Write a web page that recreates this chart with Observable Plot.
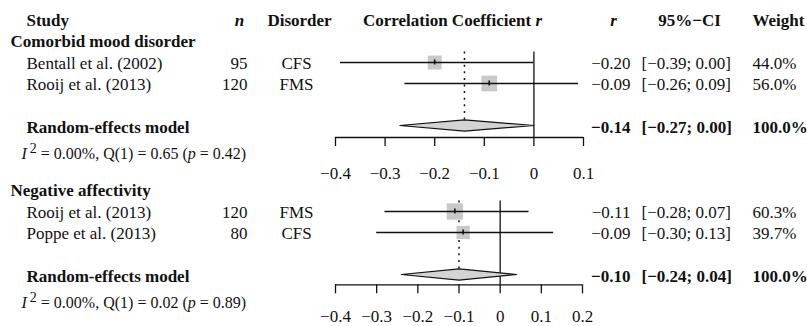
<!DOCTYPE html>
<html><head><meta charset="utf-8">
<script src="https://cdn.jsdelivr.net/npm/d3@7"></script>
<script src="https://cdn.jsdelivr.net/npm/@observablehq/plot@0.6"></script>
<style>
body{margin:0;background:#fff;}
#chart svg{display:block;}
#chart [aria-label="x-axis tick"] path{stroke-width:1.3px;}
</style></head><body><div id="chart"></div>
<script>
// ---------- data ----------
const subgroupNames = ["Comorbid mood disorder", "Negative affectivity"];
const studyNames = [["Bentall et al. (2002)", "Rooij et al. (2013)"], ["Rooij et al. (2013)", "Poppe et al. (2013)"]];
const sampleSizes = [[95, 120], [120, 80]];
const disorders = [["CFS", "FMS"], ["FMS", "CFS"]];
const rValues = [[-0.20, -0.09], [-0.11, -0.09]];
const ciLower = [[-0.39, -0.26], [-0.28, -0.30]];
const ciUpper = [[0.00, 0.09], [0.07, 0.13]];
const weights = [[44.0, 56.0], [60.3, 39.7]];
const pooledR = [-0.14, -0.10];
const pooledLower = [-0.27, -0.24];
const pooledUpper = [0.00, 0.04];
const i2Values = [0.00, 0.00];
const qValues = [0.65, 0.02];
const qDf = [1, 1];
const pValues = [0.42, 0.89];
const modelLabel = "Random-effects model";
const headerLabels = ["Study", "n", "Disorder", "Correlation Coefficient r", "r", "95%\u2212CI", "Weight"];
const axisTicks = [[-0.4, -0.3, -0.2, -0.1, 0, 0.1], [-0.4, -0.3, -0.2, -0.1, 0, 0.1, 0.2]];

// ---------- layout ----------
const W = 807;
const FONT = "'Liberation Serif', 'Times New Roman', Times, serif";
const FS = 17;
const ROW = 21;
const X_LEFT = 335;
const INK = "#111";
const panels = [
  {height: 180, firstRowPx: 20, axisPx: 137, marginRight: 224, header: true, tickPadding: 20},
  {height: 146, firstRowPx: 10, axisPx: 104.3, marginRight: 225, header: false, tickPadding: 16.5}
];
const col = {group: 10, study: 26, n: 247, nHead: 239, disorder: 296, disHead: 299, plotHead: 452,
             r: 630, rHead: 613, ci: 641, ciHead: 689, weight: 752, het: 21};
const fmtR = v => (v < 0 ? "\u2212" : "") + Math.abs(v).toFixed(2);
const fmtCI = (lo, hi) => `[${fmtR(lo)}; ${fmtR(hi)}]`;
const fmtTick = d => d === 0 ? "0" : (d < 0 ? "\u2212" : "") + Math.abs(d).toFixed(1);

function tx(data, px, opts) {
  return Plot.text(data, {frameAnchor: "left", fontSize: FS, fill: INK, dx: px - X_LEFT, ...opts});
}

function panel(g) {
  const L = panels[g];
  const off = L.header ? 1 : 0;
  const groupRow = off;
  const studyRows = studyNames[g].map((_, i) => off + 1 + i);
  const modelRow = off + studyNames[g].length + 2;
  const yMax = (L.axisPx - L.firstRowPx) / ROW;
  const studies = studyNames[g].map((name, i) => ({
    name, n: sampleSizes[g][i], disorder: disorders[g][i], r: rValues[g][i],
    lo: ciLower[g][i], hi: ciUpper[g][i], w: weights[g][i], row: studyRows[i]
  }));
  const pooled = [{r: pooledR[g], lo: pooledLower[g], hi: pooledUpper[g], row: modelRow,
                   w: d3.sum(weights[g])}];
  const halfD = 5.6 / ROW;
  const p = pooled[0];
  const diamond = [
    {x: p.lo, y: modelRow}, {x: p.r, y: modelRow - halfD}, {x: p.hi, y: modelRow},
    {x: p.r, y: modelRow + halfD}, {x: p.lo, y: modelRow}
  ];
  const ticks = axisTicks[g];
  const domain = [ticks[0], ticks[ticks.length - 1]];
  const marks = [];
  if (L.header) {
    const hy = () => 0;
    marks.push(
      tx([headerLabels[0]], col.study, {y: hy, text: d => d, fontWeight: "bold", textAnchor: "start"}),
      tx([headerLabels[1]], col.nHead, {y: hy, text: d => d, fontWeight: "bold", fontStyle: "italic", textAnchor: "middle"}),
      tx([headerLabels[2]], col.disHead, {y: hy, text: d => d, fontWeight: "bold", textAnchor: "middle"}),
      tx([headerLabels[3]], col.plotHead, {y: hy, text: d => d, fontWeight: "bold", textAnchor: "middle", className: "rich-head"}),
      tx([headerLabels[4]], col.rHead, {y: hy, text: d => d, fontWeight: "bold", fontStyle: "italic", textAnchor: "middle"}),
      tx([headerLabels[5]], col.ciHead, {y: hy, text: d => d, fontWeight: "bold", textAnchor: "middle"}),
      tx([headerLabels[6]], col.weight, {y: hy, text: d => d, fontWeight: "bold", textAnchor: "start"})
    );
  }
  marks.push(
    tx([subgroupNames[g]], col.group, {y: () => groupRow, text: d => d, fontWeight: "bold", textAnchor: "start"}),
    tx(studies, col.study, {y: "row", text: "name", textAnchor: "start", dy: 1}),
    tx(studies, col.n, {y: "row", text: d => String(d.n), textAnchor: "end", dy: 1}),
    tx(studies, col.disorder, {y: "row", text: "disorder", textAnchor: "middle", dy: 1}),
    tx(studies, col.r, {y: "row", text: d => fmtR(d.r), textAnchor: "end", dy: 1}),
    tx(studies, col.ci, {y: "row", text: d => fmtCI(d.lo, d.hi), textAnchor: "start", dy: 1}),
    tx(studies, col.weight, {y: "row", text: d => d.w.toFixed(1) + "%", textAnchor: "start", dy: 1}),
    tx(pooled, col.study, {y: "row", text: () => modelLabel, fontWeight: "bold", textAnchor: "start", dy: 2}),
    tx(pooled, col.r, {y: "row", text: d => fmtR(d.r), fontWeight: "bold", textAnchor: "end", dy: 2}),
    tx(pooled, col.ci, {y: "row", text: d => fmtCI(d.lo, d.hi), fontWeight: "bold", textAnchor: "start", dy: 2}),
    tx(pooled, col.weight, {y: "row", text: d => d.w.toFixed(1) + "%", fontWeight: "bold", textAnchor: "start", dy: 2}),
    tx(pooled, col.het, {y: "row", text: () => `I2 = ${i2Values[g].toFixed(2)}%, Q(${qDf[g]}) = ${qValues[g].toFixed(2)} (p = ${pValues[g].toFixed(2)})`,
       textAnchor: "start", dy: 28, fontSize: 16, className: "het"}),
    // reference line at zero
    Plot.ruleX([0], {y1: studyRows[0] - 0.5, y2: yMax, stroke: INK, strokeWidth: 1.3}),
    // dotted pooled-estimate line
    Plot.ruleX(pooled, {x: "r", y1: studyRows[0] - 0.5, y2: modelRow - halfD, stroke: INK, strokeWidth: 1.5, strokeDasharray: "2,4.6"}),
    // study squares
    Plot.dot(studies, {x: "r", y: "row", r: "w", symbol: "square", fill: "#c9c9c9", stroke: "none"}),
    // confidence intervals
    Plot.ruleY(studies, {x1: "lo", x2: "hi", y: "row", stroke: INK, strokeWidth: 1.3}),
    Plot.ruleX(studies, {x: "r", y1: d => d.row - 0.12, y2: d => d.row + 0.12, stroke: INK, strokeWidth: 1.6}),
    // pooled diamond
    Plot.line(diamond, {x: "x", y: "y", fill: "#d4d4d4", stroke: INK, strokeWidth: 1.2}),
    // axis baseline
    Plot.ruleY([yMax], {stroke: INK, strokeWidth: 1.3})
  );
  const svg = Plot.plot({
    width: W, height: L.height,
    marginLeft: X_LEFT, marginRight: L.marginRight,
    marginTop: L.firstRowPx, marginBottom: L.height - L.axisPx,
    x: {domain, ticks, tickSize: 9, tickPadding: L.tickPadding, tickFormat: fmtTick, label: null},
    y: {domain: [0, yMax], reverse: true, axis: null},
    r: {type: "sqrt", domain: [0, 100], range: [0, 11.85]},
    style: {fontFamily: FONT, fontSize: FS + "px", color: INK, background: "#fff", overflow: "visible"},
    marks
  });
  const NS = "http://www.w3.org/2000/svg";
  const rich = (el, parts) => {
    el.textContent = "";
    parts.forEach(q => {
      const ts = document.createElementNS(NS, "tspan");
      ts.textContent = q.t;
      if (q.italic) ts.setAttribute("font-style", "italic");
      if (q.dy) ts.setAttribute("dy", q.dy);
      if (q.dx) ts.setAttribute("dx", q.dx);
      if (q.size) ts.setAttribute("font-size", q.size);
      el.appendChild(ts);
    });
  };
  svg.querySelectorAll("g.rich-head text").forEach(el => {
    const s = el.textContent;
    rich(el, [{t: s.slice(0, -1)}, {t: s.slice(-1), italic: true}]);
  });
  svg.querySelectorAll("g.het text").forEach(el => {
    rich(el, [
      {t: "I", italic: true},
      {t: "2", dy: -6, dx: 3, size: 14},
      {t: ` = ${i2Values[g].toFixed(2)}%, Q(${qDf[g]}) = ${qValues[g].toFixed(2)} (`, dy: 6},
      {t: "p", italic: true},
      {t: ` = ${pValues[g].toFixed(2)})`}
    ]);
  });
  return svg;
}

const root = document.getElementById("chart");
root.appendChild(panel(0));
root.appendChild(panel(1));
</script></body></html>
